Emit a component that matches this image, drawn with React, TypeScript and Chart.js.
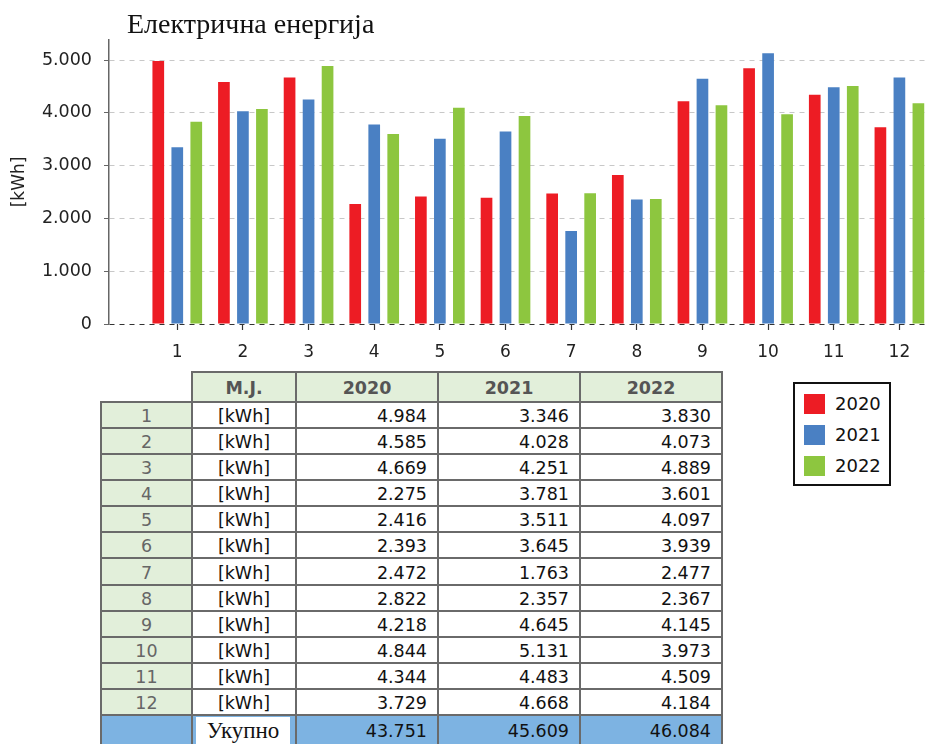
import React, { useEffect, useRef } from 'react';
import { Chart, registerables } from 'chart.js';

Chart.register(...registerables);

const titleText = 'Електрична енергија';
const unitLabel = '[kWh]';
const unitHeader = 'M.J.';
const totalLabel = 'Укупно';
const months = [1, 2, 3, 4, 5, 6, 7, 8, 9, 10, 11, 12];
const years = ['2020', '2021', '2022'];
const values2020 = [4984, 4585, 4669, 2275, 2416, 2393, 2472, 2822, 4218, 4844, 4344, 3729];
const values2021 = [3346, 4028, 4251, 3781, 3511, 3645, 1763, 2357, 4645, 5131, 4483, 4668];
const values2022 = [3830, 4073, 4889, 3601, 4097, 3939, 2477, 2367, 4145, 3973, 4509, 4184];
const totals = [43751, 45609, 46084];
const yTicks = [0, 1000, 2000, 3000, 4000, 5000];
const colors = ['#ED1C24', '#4A80C3', '#8DC63F'];

const series = [values2020, values2021, values2022];

function fmt(n: number): string {
  return String(Math.round(n)).replace(/\B(?=(\d{3})+(?!\d))/g, '.');
}

const FONT = '"DejaVu Sans", sans-serif';
const SERIF = '"Liberation Serif", "Times New Roman", serif';

// table geometry
const colX = [101, 192, 296, 438, 580, 722];
const headerTop = 372;
const bodyTop = 402;
const rowH = 26.08;
const totalTop = 715;
const pageBottom = 748;
const lineColor = '#6a6a6a';
const headerBg = '#E2EFDA';
const totalBg = '#7DB3E2';

function BarChart() {
  const ref = useRef<HTMLCanvasElement | null>(null);
  useEffect(() => {
    if (!ref.current) return;
    const chart = new Chart(ref.current, {
      type: 'bar',
      data: {
        datasets: years.map((y, i) => ({
          label: y,
          data: months.map((m, j) => ({ x: m, y: series[i][j] })),
          backgroundColor: colors[i],
          borderWidth: 0,
          categoryPercentage: 0.868,
          barPercentage: 0.615,
        })),
      },
      options: {
        responsive: false,
        animation: false,
        devicePixelRatio: 1,
        layout: { padding: { top: 40, right: 4, left: 0, bottom: 0 } },
        plugins: {
          legend: { display: false },
          title: { display: false },
          tooltip: { enabled: false },
        },
        scales: {
          x: {
            type: 'linear',
            min: -0.04,
            max: 12.39,
            offset: false,
            border: { display: false },
            grid: {
              offset: false,
              drawOnChartArea: false,
              drawTicks: true,
              tickLength: 6,
              tickColor: '#333',
              tickWidth: 1.2,
            },
            ticks: {
              stepSize: 1,
              includeBounds: false,
              autoSkip: false,
              maxRotation: 0,
              padding: 12,
              color: '#222',
              font: { family: FONT, size: 17 },
              callback: (v: any) => String(v),
            },
            afterBuildTicks: (s: any) => {
              s.ticks = months.map((m) => ({ value: m }));
            },
            afterFit: (s: any) => {
              s.height = 46;
            },
          },
          y: {
            min: 0,
            max: 5380,
            border: { display: true, color: '#666', width: 1.5, dash: [5, 5] },
            grid: {
              color: (ctx: any) => (ctx.tick && ctx.tick.value === 0 ? '#333' : '#c8c8c8'),
              lineWidth: 1,
              drawTicks: true,
              tickLength: 5,
              tickColor: '#666',
              tickBorderDash: [],
            },
            ticks: {
              stepSize: 1000,
              includeBounds: false,
              padding: 12,
              color: '#222',
              font: { family: FONT, size: 17.5 },
              callback: (v: any) => fmt(Number(v)),
            },
            afterBuildTicks: (s: any) => {
              s.ticks = yTicks.map((v) => ({ value: v }));
            },
            title: {
              display: true,
              text: unitLabel,
              color: '#222',
              font: { family: FONT, size: 17 },
              padding: { top: 9, bottom: 0 },
            },
            afterFit: (s: any) => {
              s.width = 109;
            },
          },
        },
      } as any,
    });
    return () => chart.destroy();
  }, []);
  return (
    <canvas
      ref={ref}
      width={929}
      height={370}
      style={{ position: 'absolute', left: 0, top: 0, width: 929, height: 370 }}
    />
  );
}

function Cell(props: {
  x0: number; x1: number; y0: number; y1: number;
  bg?: string; align?: 'left' | 'center' | 'right';
  children?: React.ReactNode; style?: React.CSSProperties;
}) {
  const { x0, x1, y0, y1, bg, align = 'center', children, style } = props;
  return (
    <div
      style={{
        position: 'absolute',
        left: x0,
        top: y0,
        width: x1 - x0,
        height: y1 - y0,
        background: bg || 'transparent',
        display: 'flex',
        alignItems: 'center',
        justifyContent: align === 'right' ? 'flex-end' : align === 'left' ? 'flex-start' : 'center',
        paddingRight: align === 'right' ? 11 : 0,
        paddingTop: 2,
        boxSizing: 'border-box',
        fontFamily: FONT,
        fontSize: 17.5,
        color: '#111',
        whiteSpace: 'nowrap',
        ...style,
      }}
    >
      {children}
    </div>
  );
}

function DataTable() {
  const cells: React.ReactNode[] = [];
  const lines: React.ReactNode[] = [];
  // header
  cells.push(<Cell key="hbg" x0={colX[1]} x1={colX[5]} y0={headerTop} y1={bodyTop} bg={headerBg} />);
  cells.push(
    <Cell key="h-mj" x0={colX[1]} x1={colX[2]} y0={headerTop} y1={bodyTop} style={{ fontWeight: 'bold', color: '#555' }}>
      {unitHeader}
    </Cell>
  );
  years.forEach((y, i) => {
    cells.push(
      <Cell key={'h' + y} x0={colX[i + 2]} x1={colX[i + 3]} y0={headerTop} y1={bodyTop} style={{ fontWeight: 'bold', color: '#555' }}>
        {y}
      </Cell>
    );
  });
  // body
  months.forEach((m, r) => {
    const y0 = bodyTop + r * rowH;
    const y1 = y0 + rowH;
    cells.push(
      <Cell key={'m' + m} x0={colX[0]} x1={colX[1]} y0={y0} y1={y1} bg={headerBg} style={{ color: '#666' }}>
        {String(m)}
      </Cell>
    );
    cells.push(
      <Cell key={'u' + m} x0={colX[1]} x1={colX[2]} y0={y0} y1={y1}>
        {unitLabel}
      </Cell>
    );
    series.forEach((s, i) => {
      cells.push(
        <Cell key={'v' + m + '-' + i} x0={colX[i + 2]} x1={colX[i + 3]} y0={y0} y1={y1} align="right">
          {fmt(s[r])}
        </Cell>
      );
    });
  });
  // total row
  cells.push(<Cell key="tbg" x0={colX[0]} x1={colX[5]} y0={totalTop} y1={pageBottom} bg={totalBg} />);
  cells.push(
    <Cell key="tlabel" x0={196} x1={290} y0={totalTop + 2} y1={pageBottom} bg="#fff" style={{ fontFamily: SERIF, fontSize: 23, paddingTop: 0, alignItems: 'flex-start', lineHeight: '28px' }}>
      {totalLabel}
    </Cell>
  );
  totals.forEach((t, i) => {
    cells.push(
      <Cell key={'t' + i} x0={colX[i + 2]} x1={colX[i + 3]} y0={totalTop} y1={totalTop + 29} align="right">
        {fmt(t)}
      </Cell>
    );
  });
  // lines
  const vline = (k: string, x: number, y0: number, y1: number) =>
    lines.push(<div key={k} style={{ position: 'absolute', left: x - 1, top: y0 - 1, width: 2, height: y1 - y0 + 2, background: lineColor }} />);
  const hline = (k: string, y: number, x0: number, x1: number) =>
    lines.push(<div key={k} style={{ position: 'absolute', left: x0 - 1, top: y - 1, width: x1 - x0 + 2, height: 2, background: lineColor }} />);
  vline('v0', colX[0], bodyTop, pageBottom);
  for (let i = 1; i < colX.length; i++) vline('v' + i, colX[i], headerTop, pageBottom);
  hline('h-top', headerTop, colX[1], colX[5]);
  for (let r = 0; r < months.length; r++) hline('h' + r, bodyTop + r * rowH, colX[0], colX[5]);
  hline('h-total', totalTop, colX[0], colX[5]);
  return (
    <>
      {cells}
      {lines}
    </>
  );
}

function Legend() {
  return (
    <div
      style={{
        position: 'absolute',
        left: 793,
        top: 382,
        width: 98,
        height: 104,
        border: '2px solid #111',
        boxSizing: 'border-box',
        background: '#fff',
      }}
    >
      {years.map((y, i) => (
        <div key={y} style={{ position: 'absolute', left: 9, top: 9 + i * 31, height: 21, display: 'flex', alignItems: 'center' }}>
          <div style={{ width: 21, height: 20, background: colors[i] }} />
          <span style={{ marginLeft: 10, fontFamily: FONT, fontSize: 18, color: '#111', lineHeight: '20px' }}>{y}</span>
        </div>
      ))}
    </div>
  );
}

export default function App() {
  return (
    <div style={{ position: 'absolute', left: 0, top: 0, width: 929, height: 744, overflow: 'hidden', background: '#fff' }}>
      <BarChart />
      <div
        style={{
          position: 'absolute',
          left: 127,
          top: 10,
          fontFamily: SERIF,
          fontSize: 28,
          lineHeight: '28px',
          color: '#111',
          whiteSpace: 'nowrap',
        }}
      >
        {titleText}
      </div>
      <DataTable />
      <Legend />
    </div>
  );
}
